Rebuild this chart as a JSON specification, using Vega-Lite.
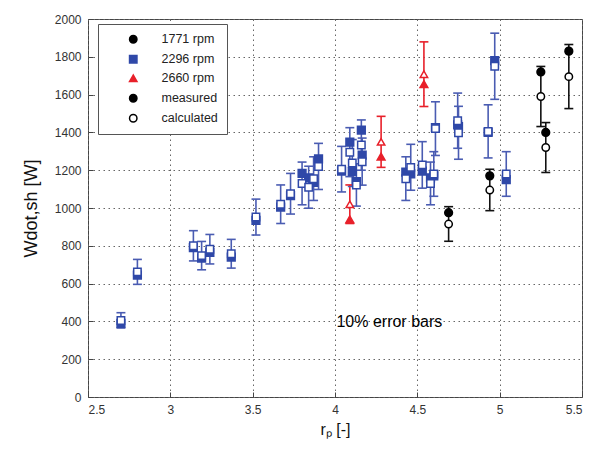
{
  "$schema": "https://vega.github.io/schema/vega-lite/v6.json",
  "width": 494,
  "height": 378,
  "autosize": "none",
  "padding": {"left": 88, "top": 19, "right": 12, "bottom": 55},
  "background": "white",
  "config": {
    "view": {"stroke": "#444", "strokeWidth": 1},
    "font": "Liberation Sans",
    "axis": {
      "labelFont": "Liberation Sans", "labelFontSize": 12, "labelColor": "#333", "labelOverlap": false, "labelPadding": 12,
      "domain": false, "grid": true, "gridColor": "#666", "gridDash": [1.5, 3.5], "gridOpacity": 1, "gridWidth": 1,
      "tickColor": "#444", "tickSize": -5, "titleFont": "Liberation Sans", "titleFontWeight": "normal", "titleColor": "#111"
    },
    "axisY": {"tickCount": 20, "format": "d", "titleFontSize": 18, "titlePadding": 14},
    "axisX": {"tickCount": 20}
  },
  "datasets": {
    "pts": [
      {"series": "2296 rpm", "x": 2.70, "meas": 390, "calc": 405, "lo": 365, "hi": 446},
      {"series": "2296 rpm", "x": 2.80, "meas": 645, "calc": 662, "lo": 596, "hi": 728},
      {"series": "2296 rpm", "x": 3.14, "meas": 790, "calc": 800, "lo": 720, "hi": 880},
      {"series": "2296 rpm", "x": 3.19, "meas": 735, "calc": 748, "lo": 673, "hi": 823},
      {"series": "2296 rpm", "x": 3.24, "meas": 765, "calc": 782, "lo": 704, "hi": 860},
      {"series": "2296 rpm", "x": 3.37, "meas": 740, "calc": 758, "lo": 682, "hi": 834},
      {"series": "2296 rpm", "x": 3.52, "meas": 935, "calc": 952, "lo": 857, "hi": 1047},
      {"series": "2296 rpm", "x": 3.67, "meas": 1005, "calc": 1020, "lo": 918, "hi": 1122},
      {"series": "2296 rpm", "x": 3.73, "meas": 1065, "calc": 1075, "lo": 968, "hi": 1183},
      {"series": "2296 rpm", "x": 3.80, "meas": 1183, "calc": 1130, "lo": 1017, "hi": 1243},
      {"series": "2296 rpm", "x": 3.84, "meas": 1160, "calc": 1110, "lo": 999, "hi": 1221},
      {"series": "2296 rpm", "x": 3.87, "meas": 1135, "calc": 1155, "lo": 1040, "hi": 1271},
      {"series": "2296 rpm", "x": 3.90, "meas": 1260, "calc": 1220, "lo": 1098, "hi": 1342},
      {"series": "2296 rpm", "x": 4.04, "meas": 1195, "calc": 1205, "lo": 1085, "hi": 1326},
      {"series": "2296 rpm", "x": 4.09, "meas": 1348, "calc": 1295, "lo": 1166, "hi": 1425},
      {"series": "2296 rpm", "x": 4.105, "meas": 1192, "calc": 1238, "lo": 1114, "hi": 1362},
      {"series": "2296 rpm", "x": 4.13, "meas": 1140, "calc": 1122, "lo": 1010, "hi": 1234},
      {"series": "2296 rpm", "x": 4.16, "meas": 1412, "calc": 1333, "lo": 1200, "hi": 1466},
      {"series": "2296 rpm", "x": 4.165, "meas": 1280, "calc": 1245, "lo": 1121, "hi": 1370},
      {"series": "2296 rpm", "x": 4.43, "meas": 1190, "calc": 1155, "lo": 1040, "hi": 1271},
      {"series": "2296 rpm", "x": 4.46, "meas": 1180, "calc": 1215, "lo": 1094, "hi": 1337},
      {"series": "2296 rpm", "x": 4.53, "meas": 1195, "calc": 1228, "lo": 1105, "hi": 1351},
      {"series": "2296 rpm", "x": 4.58, "meas": 1160, "calc": 1130, "lo": 1017, "hi": 1243},
      {"series": "2296 rpm", "x": 4.60, "meas": 1170, "calc": 1180, "lo": 1062, "hi": 1298},
      {"series": "2296 rpm", "x": 4.61, "meas": 1425, "calc": 1420, "lo": 1278, "hi": 1562},
      {"series": "2296 rpm", "x": 4.745, "meas": 1440, "calc": 1462, "lo": 1316, "hi": 1608},
      {"series": "2296 rpm", "x": 4.75, "meas": 1430, "calc": 1398, "lo": 1258, "hi": 1538},
      {"series": "2296 rpm", "x": 4.93, "meas": 1400, "calc": 1405, "lo": 1265, "hi": 1546},
      {"series": "2296 rpm", "x": 4.97, "meas": 1780, "calc": 1750, "lo": 1575, "hi": 1925},
      {"series": "2296 rpm", "x": 5.04, "meas": 1150, "calc": 1180, "lo": 1062, "hi": 1298},
      {"series": "2660 rpm", "x": 4.09, "meas": 940, "calc": 1020, "lo": 918, "hi": 1122},
      {"series": "2660 rpm", "x": 4.28, "meas": 1272, "calc": 1350, "lo": 1215, "hi": 1485},
      {"series": "2660 rpm", "x": 4.54, "meas": 1655, "calc": 1708, "lo": 1537, "hi": 1879},
      {"series": "1771 rpm", "x": 4.69, "meas": 975, "calc": 915, "lo": 824, "hi": 1007},
      {"series": "1771 rpm", "x": 4.94, "meas": 1170, "calc": 1095, "lo": 986, "hi": 1205},
      {"series": "1771 rpm", "x": 5.25, "meas": 1720, "calc": 1590, "lo": 1431, "hi": 1749},
      {"series": "1771 rpm", "x": 5.28, "meas": 1400, "calc": 1320, "lo": 1188, "hi": 1452},
      {"series": "1771 rpm", "x": 5.42, "meas": 1830, "calc": 1695, "lo": 1526, "hi": 1865}
    ],
    "note": [{"x": 4.33, "y": 397, "label": "10% error bars"}]
  },
  "encoding": {
    "x": {"field": "x", "type": "quantitative",
      "scale": {"domain": [2.5, 5.5], "nice": false, "zero": false},
      "axis": {"values": [2.5, 3, 3.5, 4, 4.5, 5, 5.5], "tickCount": 20, "format": "~g", "title": "rₚ [-]", "titleFontSize": 16, "titlePadding": 6}}
  },
  "layer": [
    {
      "data": {"name": "pts"},
      "mark": {"type": "rule", "strokeWidth": 1.6},
      "encoding": {
        "y": {"field": "lo", "type": "quantitative",
          "scale": {"domain": [0, 2000], "nice": false},
          "axis": {"values": [0, 200, 400, 600, 800, 1000, 1200, 1400, 1600, 1800, 2000], "tickCount": 20, "format": "d", "title": "Wdot,sh [W]"}},
        "y2": {"field": "hi"},
        "stroke": {"field": "series", "type": "nominal",
          "scale": {"domain": ["1771 rpm", "2296 rpm", "2660 rpm"], "range": ["#111111", "#4a5cb2", "#e8202a"]},
          "legend": null}
      }
    },
    {
      "data": {"name": "pts"},
      "mark": {"type": "point", "shape": "M-1,0L1,0", "size": 80, "strokeWidth": 1.6, "filled": false, "opacity": 1},
      "encoding": {
        "y": {"field": "lo", "type": "quantitative"},
        "stroke": {"field": "series", "type": "nominal", "legend": null}
      }
    },
    {
      "data": {"name": "pts"},
      "mark": {"type": "point", "shape": "M-1,0L1,0", "size": 80, "strokeWidth": 1.6, "filled": false, "opacity": 1},
      "encoding": {
        "y": {"field": "hi", "type": "quantitative"},
        "stroke": {"field": "series", "type": "nominal", "legend": null}
      }
    },
    {
      "data": {"name": "pts"},
      "mark": {"type": "point", "filled": false, "size": 60, "strokeWidth": 1.5, "opacity": 1, "fillOpacity": 1},
      "encoding": {
        "y": {"field": "meas", "type": "quantitative"},
        "color": {"field": "series", "type": "nominal",
          "scale": {"domain": ["1771 rpm", "2296 rpm", "2660 rpm", "measured", "calculated"], "range": ["#000000", "#2f48a8", "#e8202a", "#000000", "#000000"]},
          "legend": {"title": null, "orient": "none", "legendX": 10, "legendY": 5, "strokeColor": "#555", "fillColor": "white",
            "padding": 9, "labelFont": "Liberation Sans", "labelFontSize": 12.5, "labelColor": "#222", "symbolOffset": 20, "labelOffset": 22,
            "rowPadding": 6, "symbolSize": 55, "symbolStrokeWidth": 1.5}},
        "shape": {"field": "series", "type": "nominal",
          "scale": {"domain": ["1771 rpm", "2296 rpm", "2660 rpm", "measured", "calculated"], "range": ["circle", "square", "triangle-up", "circle", "circle"]}},
        "fill": {"field": "series", "type": "nominal",
          "scale": {"domain": ["1771 rpm", "2296 rpm", "2660 rpm", "measured", "calculated"], "range": ["#000000", "#2f48a8", "#e8202a", "#000000", "#ffffff"]}}
      }
    },
    {
      "data": {"name": "pts"},
      "mark": {"type": "point", "filled": false, "fill": "white", "size": 55, "strokeWidth": 1.5, "opacity": 1, "fillOpacity": 1},
      "encoding": {
        "y": {"field": "calc", "type": "quantitative"},
        "color": {"field": "series", "type": "nominal"},
        "shape": {"field": "series", "type": "nominal"}
      }
    },
    {
      "data": {"name": "note"},
      "mark": {"type": "text", "font": "Liberation Sans", "fontSize": 16, "color": "#000"},
      "encoding": {
        "y": {"field": "y", "type": "quantitative"},
        "text": {"field": "label"}
      }
    }
  ]
}
